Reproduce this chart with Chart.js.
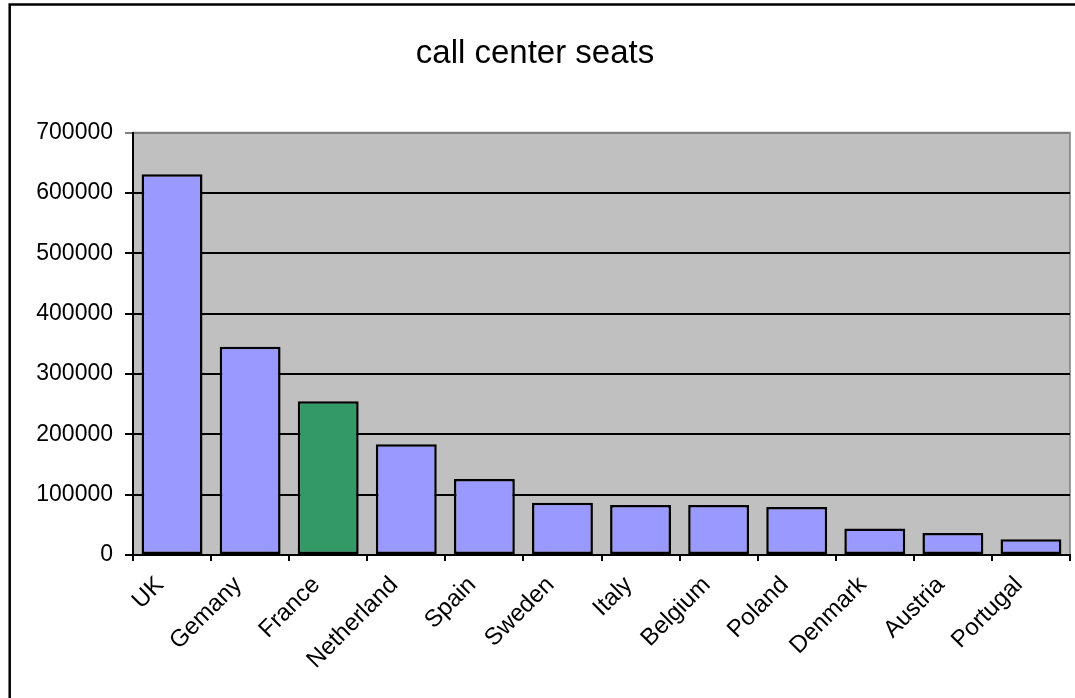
<!DOCTYPE html>
<html>
<head>
<meta charset="utf-8">
<script src="https://cdn.jsdelivr.net/npm/chart.js@4"></script>
<style>
  body { margin: 0; background: #fff; }
  #chart { display: block; }
</style>
</head>
<body>
<canvas id="chart" width="1075" height="698"></canvas>
<script>
const countries = ["UK", "Gemany", "France", "Netherland", "Spain", "Sweden", "Italy", "Belgium", "Poland", "Denmark", "Austria", "Portugal"];
const seats = [631000, 345000, 255000, 183500, 126000, 86500, 83000, 83000, 79500, 44000, 36500, 26000];
const highlighted = "France";
const yTicks = [0, 100000, 200000, 300000, 400000, 500000, 600000, 700000];

const barColors = countries.map(c => c === highlighted ? "#339966" : "#9999FF");

// grey plot background + frame around the chart
const chartFrame = {
  id: "chartFrame",
  beforeDraw(chart) {
    const { ctx, chartArea: a } = chart;
    ctx.save();
    ctx.fillStyle = "#C0C0C0";
    ctx.fillRect(a.left, a.top, a.right - a.left, a.bottom - a.top);
    ctx.strokeStyle = "#808080";
    ctx.lineWidth = 1.5;
    ctx.beginPath();
    ctx.moveTo(a.left, a.top);
    ctx.lineTo(a.right, a.top);
    ctx.lineTo(a.right, a.bottom);
    ctx.stroke();
    ctx.strokeStyle = "#000";
    ctx.lineWidth = 2.5;
    ctx.beginPath();
    ctx.moveTo(9.7, 698);
    ctx.lineTo(9.7, 4.5);
    ctx.lineTo(1075, 4.5);
    ctx.stroke();
    ctx.restore();
  }
};

const font = "'Liberation Sans', Arial, sans-serif";

new Chart(document.getElementById("chart"), {
  type: "bar",
  data: {
    labels: countries,
    datasets: [{
      data: seats,
      backgroundColor: barColors,
      borderColor: "#000",
      borderWidth: 2.5,
      borderSkipped: false,
      barPercentage: 0.78,
      categoryPercentage: 1,
    }],
  },
  options: {
    responsive: false,
    devicePixelRatio: 1,
    animation: false,
    layout: { padding: { left: 0, right: 5, top: 0, bottom: 0 } },
    plugins: {
      legend: { display: false },
      tooltip: { enabled: false },
      title: {
        display: true,
        text: "call center seats",
        color: "#000",
        font: { family: font, size: 33, weight: "normal" },
        padding: { top: 34, bottom: 59 },
      },
    },
    scales: {
      x: {
        afterFit(scale) { scale.height = 143; },
        border: { color: "#000", width: 2 },
        grid: { drawOnChartArea: false, color: "#000", lineWidth: 2, tickLength: 6, offset: true },
        ticks: {
          color: "#000",
          minRotation: 45,
          maxRotation: 45,
          padding: 10,
          labelOffset: -12,
          font: { family: font, size: 24 },
        },
      },
      y: {
        min: 0,
        max: 700000,
        afterFit(scale) { scale.width = 133; },
        afterBuildTicks(scale) { scale.ticks = yTicks.map(v => ({ value: v })); },
        border: { color: "#000", width: 2 },
        grid: {
          color: ctx => ctx.tick && ctx.tick.value === 700000 ? "#808080" : "#000",
          lineWidth: 2,
          tickLength: 8,
        },
        ticks: {
          color: "#000",
          padding: 12,
          font: { family: font, size: 23 },
          callback: v => String(v),
        },
      },
    },
  },
  plugins: [chartFrame],
});
</script>
</body>
</html>
